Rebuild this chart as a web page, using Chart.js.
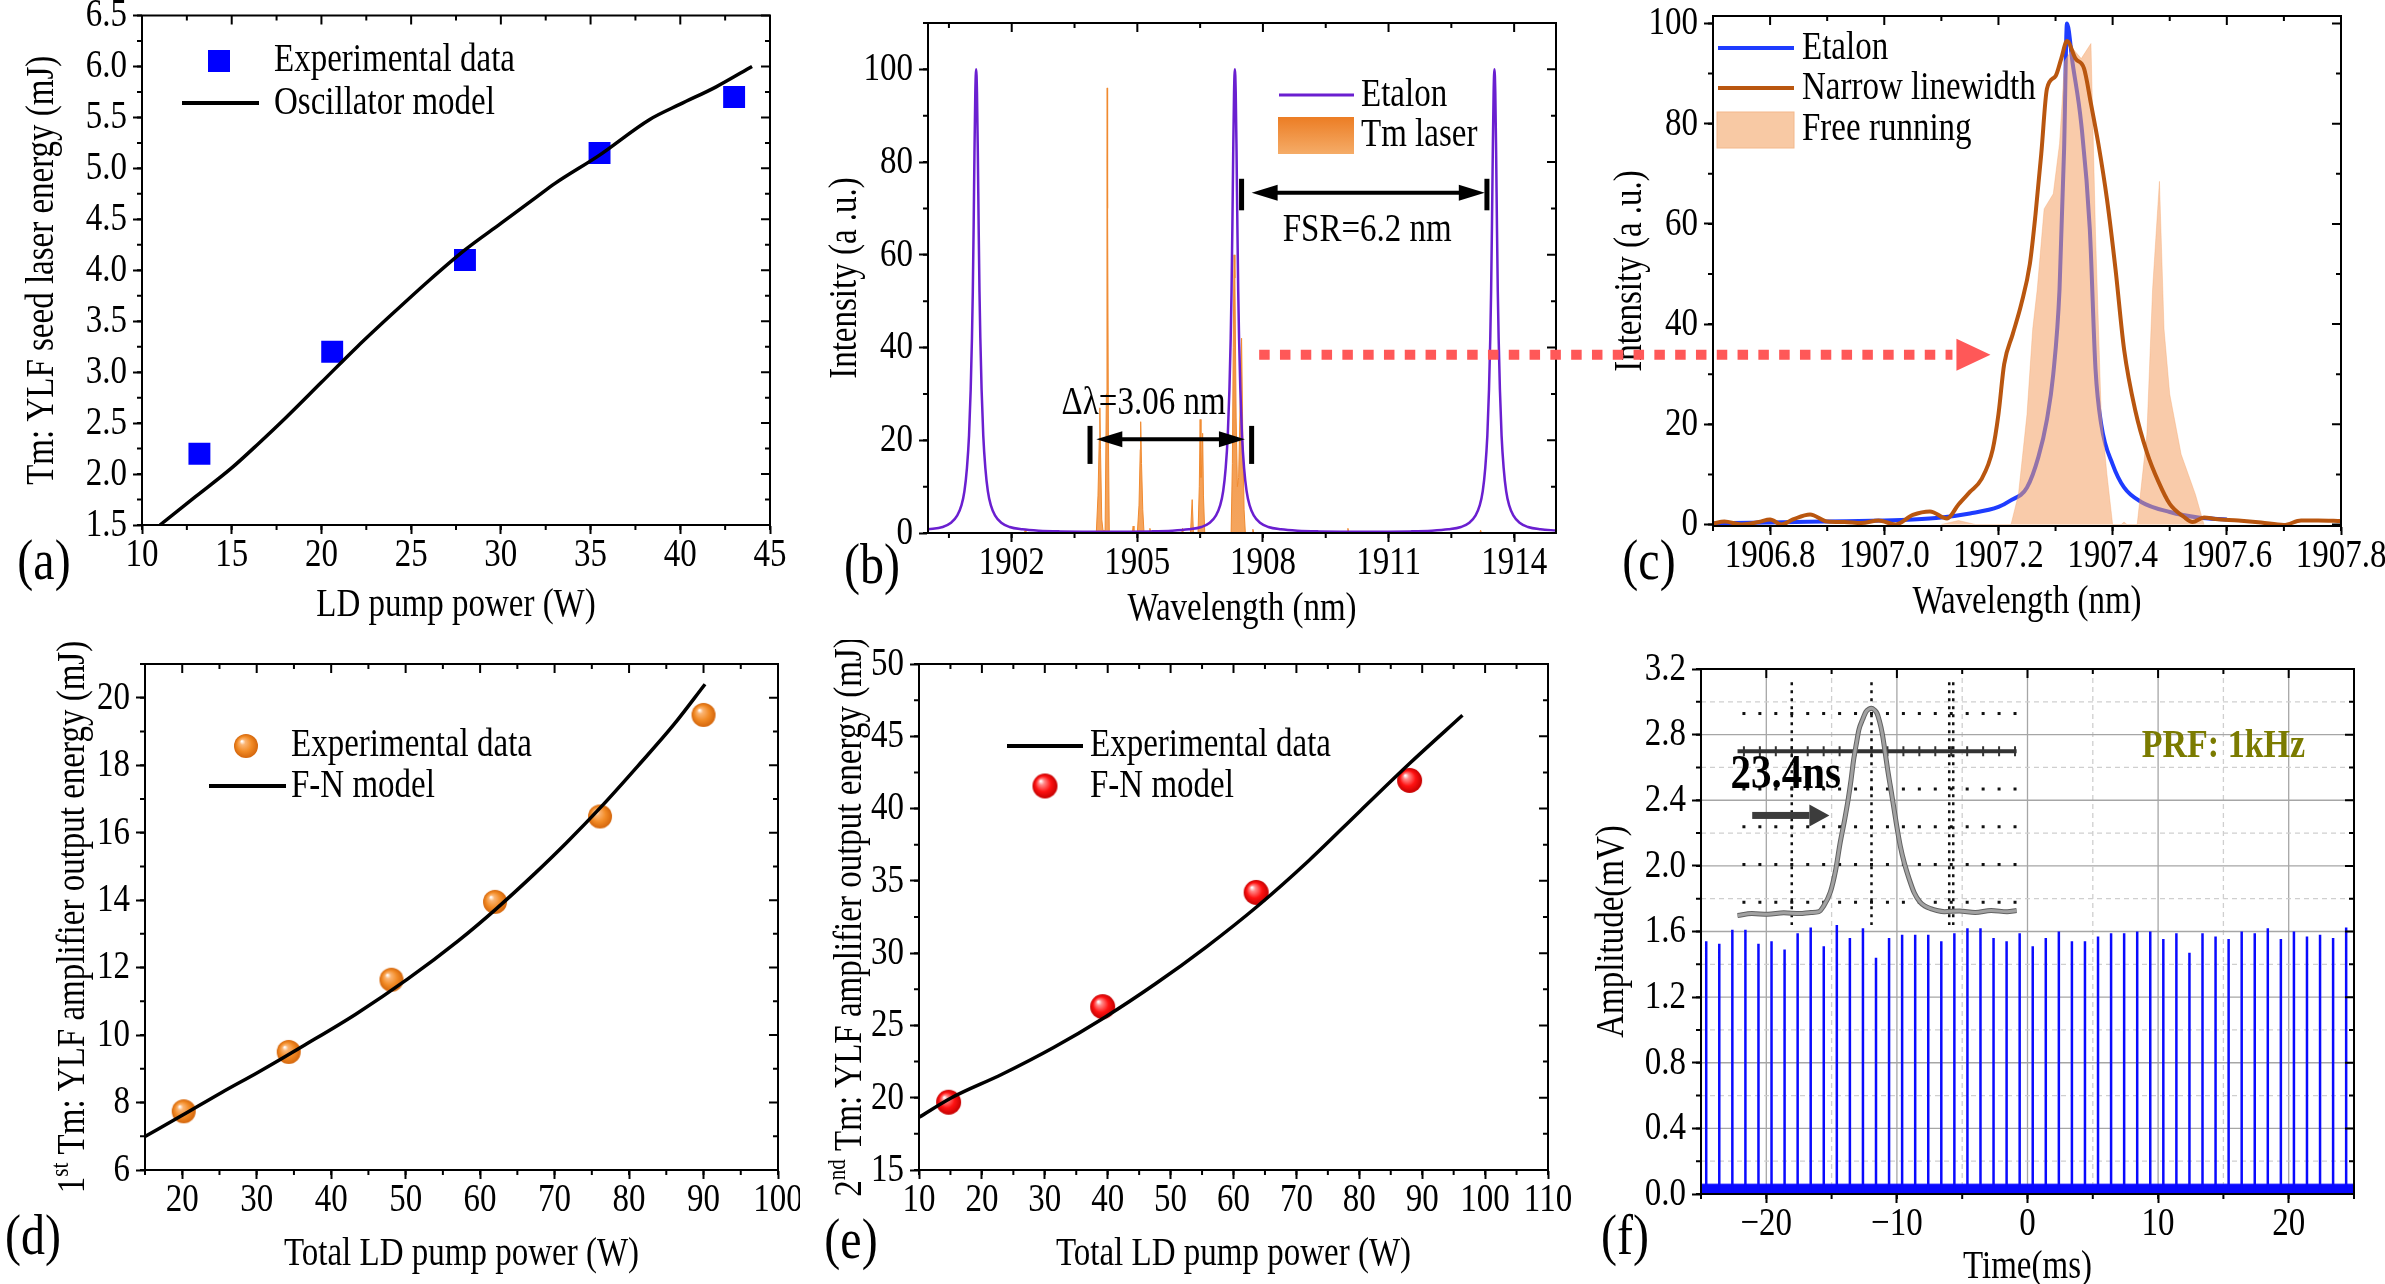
<!DOCTYPE html>
<html>
<head>
<meta charset="utf-8">
<title>Tm:YLF laser characterisation</title>
<script src="https://cdn.jsdelivr.net/npm/chart.js@4.4.1/dist/chart.umd.min.js"></script>
<style>
  html, body { margin: 0; padding: 0; background: #ffffff; }
  #page { position: relative; width: 2385px; height: 1284px; overflow: hidden; background: #ffffff; }
  #page canvas { position: absolute; }
</style>
</head>
<body>
<div id="page"></div>
<script>
/* ====================== DATA ====================== */
// (a) seed oscillator
const aPowerTicks  = [10, 15, 20, 25, 30, 35, 40, 45];
const aEnergyTicks = [1.5, 2.0, 2.5, 3.0, 3.5, 4.0, 4.5, 5.0, 5.5, 6.0, 6.5];
const aExpPower    = [13.2, 20.6, 28.0, 35.5, 43.0];
const aExpEnergy   = [2.2, 3.2, 4.1, 5.15, 5.7];
const aModelPower  = [11, 13, 15, 16.5, 18, 20, 22, 24, 26, 28, 30, 32, 33, 35.5, 38.3, 40, 42, 44];
const aModelEnergy = [1.5, 1.78, 2.06, 2.3, 2.55, 2.9, 3.25, 3.58, 3.9, 4.2, 4.46, 4.72, 4.85, 5.13, 5.48, 5.63, 5.8, 6.0];

// (b) etalon transmission and Tm laser spectrum
const bWlTicks  = [1902, 1905, 1908, 1911, 1914];
const bIntTicks = [0, 20, 40, 60, 80, 100];
const bEtalonWl = [1900.0, 1900.35, 1900.55, 1900.7, 1900.8, 1900.87, 1900.93, 1900.98, 1901.02, 1901.05, 1901.07, 1901.09, 1901.11, 1901.13, 1901.15, 1901.17, 1901.19, 1901.21, 1901.23, 1901.25, 1901.28, 1901.32, 1901.37, 1901.43, 1901.5, 1901.6, 1901.75, 1901.95, 1902.25, 1902.65, 1903.15,
  1904.25,
  1905.33, 1905.83, 1906.23, 1906.53, 1906.73, 1906.88, 1906.98, 1907.05, 1907.11, 1907.16, 1907.2, 1907.23, 1907.25, 1907.27, 1907.29, 1907.31, 1907.33, 1907.35, 1907.37, 1907.39, 1907.41, 1907.43, 1907.46, 1907.5, 1907.55, 1907.61, 1907.68, 1907.78, 1907.93, 1908.13, 1908.43, 1908.83, 1909.33,
  1910.43,
  1911.53, 1912.03, 1912.43, 1912.73, 1912.93, 1913.08, 1913.18, 1913.25, 1913.31, 1913.36, 1913.4, 1913.43, 1913.45, 1913.47, 1913.49, 1913.51, 1913.53, 1913.55, 1913.57, 1913.59, 1913.61, 1913.63, 1913.66, 1913.7, 1913.75, 1913.81, 1913.88, 1913.98, 1914.13, 1914.33, 1914.63, 1915.0];
const bEtalonInt = [0.8, 1.3, 2.2, 3.8, 6, 9, 14, 21, 31, 42, 52, 66, 82, 95, 100, 95, 82, 66, 52, 42, 31, 21, 14, 9, 6, 3.8, 2.2, 1.3, 0.8, 0.5, 0.35,
  0.25,
  0.35, 0.5, 0.8, 1.3, 2.2, 3.8, 6, 9, 14, 21, 31, 42, 52, 66, 82, 95, 100, 95, 82, 66, 52, 42, 31, 21, 14, 9, 6, 3.8, 2.2, 1.3, 0.8, 0.5, 0.35,
  0.25,
  0.35, 0.5, 0.8, 1.3, 2.2, 3.8, 6, 9, 14, 21, 31, 42, 52, 66, 82, 95, 100, 95, 82, 66, 52, 42, 31, 21, 14, 9, 6, 3.8, 2.2, 1.3, 0.8, 0.55];
const bLaserWl = [1900.0, 1902.30, 1902.32, 1902.34, 1904.02, 1904.06, 1904.09, 1904.105, 1904.12, 1904.15, 1904.18, 1904.23, 1904.26, 1904.275, 1904.28, 1904.29, 1904.31, 1904.33,
  1904.88, 1904.90, 1904.92, 1905.00, 1905.04, 1905.07, 1905.08, 1905.10, 1905.13, 1905.16, 1905.28, 1905.30, 1905.32,
  1906.06, 1906.08, 1906.10, 1906.27, 1906.31, 1906.34, 1906.45, 1906.48, 1906.50, 1906.52, 1906.54, 1906.56, 1906.58, 1906.61,
  1907.24, 1907.27, 1907.29, 1907.31, 1907.33, 1907.36, 1907.39, 1907.42, 1907.46, 1907.49, 1907.52, 1907.55, 1907.58,
  1907.74, 1907.76, 1907.78, 1910.01, 1910.03, 1910.05, 1913.18, 1913.20, 1913.22, 1915.0];
const bLaserInt = [0, 0, 0.6, 0, 0, 8, 20, 27, 18, 3, 0.5, 0.5, 30, 80, 96, 70, 20, 0,
  0, 1.5, 0, 0, 6, 18, 24, 15, 5, 0, 0, 1, 0,
  0, 1, 0, 0, 7.2, 0, 0, 10, 24.5, 12, 15, 21.5, 8, 0,
  0, 15, 40, 60, 55, 25, 10, 12, 30, 42, 20, 5, 0,
  0, 0.8, 0, 0, 1, 0, 0, 0.6, 0, 0];
const bFsrBars    = [1907.49, 1913.35];   // wavelength of the two FSR end bars
const bFsrBarSpan = [69.6, 76.4];         // intensity span of the bars
const bFsrArrow   = [1907.73, 1913.30, 73.4];
const bFsrLabel   = ['FSR=6.2 nm', 1910.49, 65.3];
const bDlBars     = [1903.87, 1907.73];
const bDlBarSpan  = [14.9, 23.1];
const bDlArrow    = [1904.02, 1907.57, 20.2];
const bDlLabel    = ['\u0394\u03bb=3.06 nm', 1905.15, 28.0];
const linkFrom    = [1907.91, 38.46];     // (b) wavelength / intensity where the red arrow starts
const linkToWl    = 1907.186;             // (c) wavelength where the red arrow ends

// (c) zoom on the selected mode
const cWlTicks  = [1906.8, 1907.0, 1907.2, 1907.4, 1907.6, 1907.8];
const cIntTicks = [0, 20, 40, 60, 80, 100];
const cEtalonWl  = [1906.70, 1906.80, 1906.90, 1907.00, 1907.05, 1907.10, 1907.15, 1907.20, 1907.22, 1907.25, 1907.27, 1907.285, 1907.296, 1907.307, 1907.315, 1907.32, 1907.33, 1907.345, 1907.36, 1907.37, 1907.38, 1907.40, 1907.42, 1907.45, 1907.50, 1907.55, 1907.60];
const cEtalonInt = [0.25, 0.4, 0.6, 0.8, 1.0, 1.4, 2.2, 3.5, 4.7, 7.4, 13.5, 21, 30, 47, 75, 100, 92, 80, 59, 31, 20, 12, 7.4, 4.5, 2.5, 1.4, 1.0];
const cNarrowWl  = [1906.70, 1906.72, 1906.75, 1906.78, 1906.80, 1906.82, 1906.84, 1906.87, 1906.90, 1906.93, 1906.96, 1906.99, 1907.02, 1907.05, 1907.08, 1907.11, 1907.13, 1907.15, 1907.17, 1907.19, 1907.20, 1907.21, 1907.225, 1907.24, 1907.255, 1907.265, 1907.275, 1907.285, 1907.30, 1907.31, 1907.32, 1907.335, 1907.35, 1907.362, 1907.375, 1907.39, 1907.405, 1907.42, 1907.44, 1907.46, 1907.48, 1907.50, 1907.525, 1907.54, 1907.56, 1907.58, 1907.62, 1907.66, 1907.70, 1907.73, 1907.76, 1907.80];
const cNarrowInt = [0.2, 0.6, 0.0, 0.5, 1.0, 0.0, 1.0, 2.0, 0.6, 0.5, 0.3, 0.8, 0.0, 1.9, 2.6, 1.2, 4.0, 6.5, 9.0, 15, 22, 32, 38, 44, 52, 62, 74, 87, 89.5, 93, 96.5, 93, 91, 84, 76, 65, 51, 35, 22.6, 14.4, 8.6, 4.1, 1.5, 0.5, 1.4, 1.1, 0.8, 0.4, -0.1, 0.8, 0.8, 0.7];
const cFreeWl  = [1907.10, 1907.13, 1907.16, 1907.222, 1907.235, 1907.25, 1907.26, 1907.268, 1907.28, 1907.296, 1907.307, 1907.316, 1907.33, 1907.345, 1907.362, 1907.37, 1907.38, 1907.39, 1907.40, 1907.415, 1907.42, 1907.425, 1907.443, 1907.46, 1907.47, 1907.482, 1907.49, 1907.50, 1907.52, 1907.545, 1907.56];
const cFreeInt = [0, 0.8, 0, 0, 6, 22, 39, 47, 63, 66, 76, 92.5, 95, 93, 96, 58, 22, 10, 0, 0, 0.5, 0, 0, 18, 47, 68.5, 39, 26, 14, 6, 0];

// (d) first amplifier
const dPowerTicks  = [20, 30, 40, 50, 60, 70, 80, 90, 100];
const dEnergyTicks = [6, 8, 10, 12, 14, 16, 18, 20];
const dExpPower    = [20.2, 34.3, 48.1, 62.0, 76.1, 90.0];
const dExpEnergy   = [7.74, 9.5, 11.64, 13.95, 16.48, 19.49];
const dModelPower  = [15, 20, 25.3, 30.2, 36.4, 43.3, 50.2, 57.1, 62.2, 67.4, 71.6, 76.4, 81.2, 86, 90.2];
const dModelEnergy = [6.99, 7.62, 8.3, 8.9, 9.7, 10.62, 11.65, 12.8, 13.75, 14.8, 15.7, 16.8, 17.98, 19.2, 20.4];

// (e) second amplifier
const ePowerTicks  = [10, 20, 30, 40, 50, 60, 70, 80, 90, 100, 110];
const eEnergyTicks = [15, 20, 25, 30, 35, 40, 45, 50];
const eLinePower   = [10, 15.1, 23.2, 31.4, 39.5, 47.6, 55.7, 63.9, 72, 80.1, 88.2, 96.4];
const eLineEnergy  = [18.64, 19.98, 21.62, 23.47, 25.55, 27.88, 30.44, 33.28, 36.41, 39.82, 43.2, 46.45];
const eDotPower    = [14.7, 39.2, 63.6, 88.0];
const eDotEnergy   = [19.69, 26.3, 34.2, 41.95];

// (f) pulse train at 1 kHz and single pulse inset
const fTimeTicks = [-20, -10, 0, 10, 20];
const fAmpTicks  = [0, 0.4, 0.8, 1.2, 1.6, 2.0, 2.4, 2.8, 3.2];
const fPulseTimes = [-24.6, -23.6, -22.6, -21.6, -20.6, -19.6, -18.6, -17.6, -16.6, -15.6, -14.6, -13.6, -12.6, -11.6, -10.6, -9.6, -8.6, -7.6, -6.6, -5.6, -4.6, -3.6, -2.6, -1.6, -0.6,
  0.4, 1.4, 2.4, 3.4, 4.4, 5.4, 6.4, 7.4, 8.4, 9.4, 10.4, 11.4, 12.4, 13.4, 14.4, 15.4, 16.4, 17.4, 18.4, 19.4, 20.4, 21.4, 22.4, 23.4, 24.4];
const fPulseAmps = [1.54, 1.525, 1.61, 1.61, 1.525, 1.54, 1.49, 1.59, 1.624, 1.51, 1.64, 1.56, 1.62, 1.44, 1.56, 1.58, 1.58, 1.58, 1.54, 1.59, 1.62, 1.62, 1.56, 1.54, 1.59,
  1.51, 1.56, 1.60, 1.54, 1.54, 1.57, 1.59, 1.59, 1.60, 1.60, 1.555, 1.59, 1.47, 1.59, 1.57, 1.555, 1.60, 1.59, 1.62, 1.555, 1.60, 1.57, 1.58, 1.56, 1.625];
const fNoiseLevel = 0.06;
const fPrfLabel = ['PRF: 1kHz', 15.0, 2.73];
// inset: oscilloscope trace, time in ns, amplitude in screen divisions
const insetNs  = [-84, -75, -65, -55, -45, -38, -33, -30.3, -25.8, -22.5, -19.6, -17, -14.6, -12.8, -11.2, -9.5, -7.9, -5.5, -3.4, -1.5, 0, 1.7, 3.4, 5, 6.7, 8.4, 10.1, 11.8, 13.5, 15.7, 18.0, 20.7, 23.6, 26.8, 30.3, 33.5, 37.1, 41, 45.8, 55, 65, 75, 85, 91];
const insetDiv = [-4.35, -4.3, -4.32, -4.28, -4.3, -4.27, -4.25, -4.12, -3.73, -3.15, -2.41, -1.85, -1.27, -0.75, -0.22, 0.2, 0.57, 0.85, 1.05, 1.12, 1.14, 1.1, 1.01, 0.8, 0.48, 0.02, -0.48, -0.92, -1.36, -1.95, -2.5, -2.98, -3.38, -3.75, -3.99, -4.1, -4.17, -4.22, -4.25, -4.23, -4.27, -4.22, -4.25, -4.22];
const insetCursorsNs = [-50, 0, 50];
const insetLabel = ['23.4ns', -53.8, -0.62];
const insetArrow = [-74.8, -26.4, -1.7];

/* ====================== HELPERS ====================== */
const SERIF = "'Liberation Serif', 'Times New Roman', Times, serif";
// the figure's lettering is taller than plain Times: stretch every glyph run about its own centre
const TEXT_STRETCH = 1.2;
(function () {
  const base = CanvasRenderingContext2D.prototype.fillText;
  CanvasRenderingContext2D.prototype.fillText = function (text, x, y, maxWidth) {
    const m = this.measureText(text);
    const c = (m.actualBoundingBoxDescent - m.actualBoundingBoxAscent) / 2;
    this.save();
    this.translate(x, y + c);
    this.scale(1, TEXT_STRETCH);
    if (maxWidth === undefined || maxWidth === null) base.call(this, text, 0, -c);
    else base.call(this, text, 0, -c, maxWidth);
    this.restore();
  };
})();

Chart.defaults.font.family = SERIF;
Chart.defaults.color = '#000';
const page = document.getElementById('page');

function addCanvas(b) {
  const c = document.createElement('canvas');
  c.width = b.w; c.height = b.h;
  c.style.left = b.x + 'px'; c.style.top = b.y + 'px';
  c.style.width = b.w + 'px'; c.style.height = b.h + 'px';
  page.appendChild(c);
  return c;
}
const pts = (xs, ys) => xs.map((x, i) => ({ x: x, y: ys[i] }));
const minus = (v) => (v < 0 ? '\u2212' + Math.abs(v) : String(v));

function sphere(r, light, mid, dark) {
  const s = Math.ceil(2 * r + 2), c = document.createElement('canvas');
  c.width = c.height = s;
  const g = c.getContext('2d'), m = s / 2;
  const gr = g.createRadialGradient(m - r * 0.35, m - r * 0.4, r * 0.04, m, m, r);
  gr.addColorStop(0, '#ffffff'); gr.addColorStop(0.2, light); gr.addColorStop(0.6, mid); gr.addColorStop(1, dark);
  g.fillStyle = gr; g.beginPath(); g.arc(m, m, r, 0, Math.PI * 2); g.fill();
  return c;
}
const orangeBall = sphere(12, '#fbb574', '#f28b26', '#d4660c');
const redBall = sphere(12.5, '#ff8a8a', '#ff1212', '#c40000');

function mkAxis(dir, o) {
  const isX = dir === 'x';
  return {
    type: 'linear', position: isX ? 'bottom' : 'left', min: o.min, max: o.max,
    afterBuildTicks: (sc) => { sc.ticks = o.ticks.map((v) => ({ value: v })); },
    afterFit: (sc) => {
      if (isX) { sc.height = o.size; sc.paddingLeft = 0; sc.paddingRight = 0; }
      else { sc.width = o.size; sc.paddingTop = 0; sc.paddingBottom = 0; }
    },
    grid: { display: true, drawOnChartArea: false, drawTicks: true, tickLength: 9, tickWidth: 2, tickColor: '#000', color: '#000' },
    border: { display: true, color: '#000', width: 2 },
    ticks: { font: { size: 33, family: SERIF }, color: '#000', padding: isX ? 1 : 6, autoSkip: false, maxRotation: 0, minRotation: 0,
      callback: (v) => (o.fmt ? o.fmt(v) : String(v)) },
    title: o.title ? { display: true, text: o.title, color: '#000', font: { size: 33, family: SERIF, lineHeight: o.lh || 1.2 },
      padding: isX ? { top: 0, bottom: o.tpad } : { top: o.tpad, bottom: 0 } } : { display: false }
  };
}

function minorVals(min, max, step, off) {
  const out = [];
  let k = Math.ceil((min - off) / step - 1e-9);
  for (let v = k * step + off; v <= max + 1e-9; v = (++k) * step + off) out.push(v);
  return out;
}

function frameTicks(chart, spec) {
  const { ctx, chartArea: a, scales: { x, y } } = chart;
  ctx.save();
  ctx.strokeStyle = '#000'; ctx.lineWidth = 2;
  ctx.strokeRect(a.left, a.top, a.right - a.left, a.bottom - a.top);
  ctx.beginPath();
  const inX = (p) => p >= a.left - 0.5 && p <= a.right + 0.5;
  const inY = (p) => p >= a.top - 0.5 && p <= a.bottom + 0.5;
  for (const v of minorVals(x.min, x.max, spec.xMinor[0], spec.xMinor[1] || 0)) {
    const p = x.getPixelForValue(v); if (!inX(p)) continue;
    ctx.moveTo(p, a.bottom); ctx.lineTo(p, a.bottom + 5);
    ctx.moveTo(p, a.top); ctx.lineTo(p, a.top + 5);
  }
  for (const t of x.ticks) { const p = x.getPixelForValue(t.value); ctx.moveTo(p, a.top); ctx.lineTo(p, a.top + 9); }
  for (const v of minorVals(y.min, y.max, spec.yMinor[0], spec.yMinor[1] || 0)) {
    const p = y.getPixelForValue(v); if (!inY(p)) continue;
    ctx.moveTo(a.left, p); ctx.lineTo(a.left - 5, p);
    ctx.moveTo(a.right, p); ctx.lineTo(a.right - 5, p);
  }
  for (const t of y.ticks) { const p = y.getPixelForValue(t.value); ctx.moveTo(a.right, p); ctx.lineTo(a.right - 9, p); }
  ctx.stroke();
  ctx.restore();
}

function drawLegend(ctx, items) {
  for (const it of items) {
    ctx.save();
    if (it.kind === 'square') { ctx.fillStyle = it.color; ctx.fillRect(it.cx - it.size / 2, it.cy - it.size / 2, it.size, it.size); }
    if (it.kind === 'line') { ctx.strokeStyle = it.color; ctx.lineWidth = it.width; ctx.beginPath(); ctx.moveTo(it.x1, it.y); ctx.lineTo(it.x2, it.y); ctx.stroke(); }
    if (it.kind === 'gbox') {
      const g = ctx.createLinearGradient(0, it.y, 0, it.y + it.h);
      g.addColorStop(0, '#ec7d24'); g.addColorStop(1, '#f5ac68');
      ctx.fillStyle = g; ctx.fillRect(it.x, it.y, it.w, it.h);
    }
    if (it.kind === 'box') { ctx.fillStyle = it.color; ctx.fillRect(it.x, it.y, it.w, it.h); ctx.strokeStyle = it.stroke; ctx.lineWidth = 1; ctx.strokeRect(it.x, it.y, it.w, it.h); }
    if (it.kind === 'ball') { ctx.drawImage(it.img, it.cx - it.img.width / 2, it.cy - it.img.height / 2); }
    ctx.fillStyle = '#000'; ctx.font = '33px ' + SERIF; ctx.textAlign = 'left'; ctx.textBaseline = 'middle';
    ctx.fillText(it.text, it.tx, it.ty);
    ctx.restore();
  }
}

function supTitle(ctx, cx, cy, base, sup, rest) {
  ctx.save(); ctx.translate(cx, cy); ctx.rotate(-Math.PI / 2);
  ctx.fillStyle = '#000'; ctx.textBaseline = 'alphabetic'; ctx.textAlign = 'left';
  const f1 = '33px ' + SERIF, f2 = '21px ' + SERIF;
  ctx.font = f1; const w1 = ctx.measureText(base).width, w3 = ctx.measureText(rest).width;
  ctx.font = f2; const w2 = ctx.measureText(sup).width;
  let x = -(w1 + w2 + w3) / 2; const yb = 11;
  ctx.font = f1; ctx.fillText(base, x, yb); x += w1;
  ctx.font = f2; ctx.fillText(sup, x, yb - 15); x += w2;
  ctx.font = f1; ctx.fillText(rest, x, yb);
  ctx.restore();
}

function decor(spec) {
  return {
    id: 'decor',
    beforeDatasetsDraw(chart) { if (spec.under) spec.under(chart, chart.ctx); },
    afterDatasetsDraw(chart) {
      const ctx = chart.ctx;
      if (spec.xMinor) frameTicks(chart, spec);
      if (spec.over) { ctx.save(); spec.over(chart, ctx); ctx.restore(); }
      if (spec.legend) drawLegend(ctx, spec.legend);
      if (spec.ytitle) supTitle(ctx, spec.ytitle[0], spec.ytitle[1], spec.ytitle[2], spec.ytitle[3], spec.ytitle[4]);
      if (spec.label) {
        ctx.save(); ctx.font = '48px ' + SERIF; ctx.fillStyle = '#000'; ctx.textAlign = 'center'; ctx.textBaseline = 'middle';
        ctx.fillText(spec.label[0], spec.label[1], spec.label[2]); ctx.restore();
      }
    }
  };
}

function makeChart(box, area, datasets, xo, yo, spec) {
  const cv = addCanvas(box);
  const L = area.L - box.x, T = area.T - box.y, R = area.R - box.x, B = area.B - box.y;
  xo.size = box.h - B; yo.size = L;
  return new Chart(cv.getContext('2d'), {
    type: 'line',
    data: { datasets: datasets },
    options: {
      responsive: false, animation: false, devicePixelRatio: 1,
      layout: { padding: { left: 0, top: T, right: box.w - R, bottom: 0 } },
      scales: { x: mkAxis('x', xo), y: mkAxis('y', yo) },
      plugins: { legend: { display: false }, tooltip: { enabled: false } },
      elements: { point: { radius: 0 }, line: { tension: 0 } }
    },
    plugins: [decor(spec)]
  });
}

// arrow helpers in data space
function hArrowHead(ctx, xTip, y, dir, len, half) {
  ctx.beginPath(); ctx.moveTo(xTip, y); ctx.lineTo(xTip - dir * len, y - half); ctx.lineTo(xTip - dir * len, y + half); ctx.closePath(); ctx.fill();
}
function dimension(chart, ctx, bars, span, arrow, label) {
  const X = (v) => chart.scales.x.getPixelForValue(v), Y = (v) => chart.scales.y.getPixelForValue(v);
  ctx.fillStyle = '#000'; ctx.strokeStyle = '#000';
  for (const b of bars) ctx.fillRect(X(b) - 2.5, Y(span[1]), 5, Y(span[0]) - Y(span[1]));
  const y = Y(arrow[2]), x1 = X(arrow[0]), x2 = X(arrow[1]);
  ctx.lineWidth = 4; ctx.beginPath(); ctx.moveTo(x1 + 20, y); ctx.lineTo(x2 - 20, y); ctx.stroke();
  hArrowHead(ctx, x1, y, -1, 26, 8); hArrowHead(ctx, x2, y, 1, 26, 8);
  ctx.font = '33px ' + SERIF; ctx.textAlign = 'center'; ctx.textBaseline = 'middle';
  ctx.fillText(label[0], X(label[1]), Y(label[2]));
}

/* ====================== PANELS ====================== */
const boxA = { x: 0, y: 0, w: 800, h: 640 },     areaA = { L: 142, T: 14, R: 770, B: 525 };
const boxB = { x: 800, y: 0, w: 790, h: 640 },   areaB = { L: 928, T: 23, R: 1556, B: 533 };
const boxC = { x: 1590, y: 0, w: 795, h: 640 },  areaC = { L: 1713, T: 16, R: 2341, B: 526 };
const boxD = { x: 0, y: 640, w: 800, h: 644 },   areaD = { L: 145, T: 664, R: 778, B: 1170 };
const boxE = { x: 800, y: 640, w: 790, h: 644 }, areaE = { L: 919, T: 664, R: 1548, B: 1170 };
const boxF = { x: 1590, y: 640, w: 795, h: 644 },areaF = { L: 1701, T: 669, R: 2354, B: 1194 };

// (a)
const chartA = makeChart(boxA, areaA, [
  { data: pts(aModelPower, aModelEnergy), borderColor: '#000', borderWidth: 3.5, pointRadius: 0, cubicInterpolationMode: 'monotone', fill: false },
  { data: pts(aExpPower, aExpEnergy), showLine: false, pointStyle: 'rect', pointRadius: 15.5, pointBackgroundColor: '#0000ff', pointBorderWidth: 0, pointBorderColor: '#0000ff' }
], { min: 10, max: 45, ticks: aPowerTicks, title: 'LD pump power (W)', tpad: 14 },
   { min: 1.5, max: 6.5, ticks: aEnergyTicks, fmt: (v) => v.toFixed(1), title: 'Tm: YLF seed laser energy (mJ)', tpad: 23 },
   { xMinor: [2.5], yMinor: [0.25], label: ['(a)', 44, 564],
     legend: [
       { kind: 'square', cx: 219, cy: 61, size: 22, color: '#0000ff', text: 'Experimental data', tx: 274, ty: 61 },
       { kind: 'line', x1: 182, x2: 259, y: 103, color: '#000', width: 4, text: 'Oscillator model', tx: 274, ty: 103 }
     ] });

// (b)
const chartB = makeChart(boxB, areaB, [
  { data: pts(bEtalonWl, bEtalonInt), borderColor: '#6a1fd0', borderWidth: 2.5, pointRadius: 0, cubicInterpolationMode: 'monotone', fill: false },
  { data: pts(bLaserWl, bLaserInt), borderColor: '#f08a30', borderWidth: 1, pointRadius: 0, fill: 'origin',
    backgroundColor: (c) => {
      const a = c.chart.chartArea; if (!a) return '#f19040';
      const g = c.chart.ctx.createLinearGradient(0, a.top, 0, a.bottom);
      g.addColorStop(0, '#ea7618'); g.addColorStop(1, '#f5a55e'); return g;
    } }
], { min: 1900, max: 1915, ticks: bWlTicks, title: 'Wavelength (nm)', tpad: 10 },
   { min: 0, max: 110, ticks: bIntTicks, title: 'Intensity (a .u.)', tpad: 26 },
   { xMinor: [1.5], yMinor: [10], label: ['(b)', 72, 568],
     over: (chart, ctx) => {
       dimension(chart, ctx, bFsrBars, bFsrBarSpan, bFsrArrow, bFsrLabel);
       dimension(chart, ctx, bDlBars, bDlBarSpan, bDlArrow, bDlLabel);
     },
     legend: [
       { kind: 'line', x1: 479, x2: 554, y: 95, color: '#6a1fd0', width: 3, text: 'Etalon', tx: 561, ty: 95 },
       { kind: 'gbox', x: 478, y: 117, w: 76, h: 37, text: 'Tm laser', tx: 561, ty: 135 }
     ] });

// (c)
const chartC = makeChart(boxC, areaC, [
  { data: pts(cNarrowWl, cNarrowInt), borderColor: '#b9560f', borderWidth: 4, pointRadius: 0, cubicInterpolationMode: 'monotone', fill: false },
  { data: pts(cFreeWl, cFreeInt), borderColor: 'rgba(244,160,100,0.35)', borderWidth: 1, pointRadius: 0, fill: 'origin', backgroundColor: 'rgba(244,160,100,0.55)' },
  { data: pts(cEtalonWl, cEtalonInt), borderColor: '#1e3cff', borderWidth: 4, pointRadius: 0, cubicInterpolationMode: 'monotone', fill: false }
], { min: 1906.7, max: 1907.8, ticks: cWlTicks, fmt: (v) => v.toFixed(1), title: 'Wavelength (nm)', tpad: 17 },
   { min: -0.3, max: 101.5, ticks: cIntTicks, title: 'Intensity (a .u.)', tpad: 21 },
   { xMinor: [0.1], yMinor: [10], label: ['(c)', 59, 564],
     legend: [
       { kind: 'line', x1: 128, x2: 204, y: 48, color: '#1e3cff', width: 4, text: 'Etalon', tx: 212, ty: 48 },
       { kind: 'line', x1: 128, x2: 204, y: 88, color: '#b9560f', width: 4, text: 'Narrow linewidth', tx: 212, ty: 88 },
       { kind: 'box', x: 127, y: 112, w: 77, h: 36, color: '#f8c9a4', stroke: '#f3b88c', text: 'Free running', tx: 212, ty: 130 }
     ] });

// (d)
const chartD = makeChart(boxD, areaD, [
  { data: pts(dModelPower, dModelEnergy), borderColor: '#000', borderWidth: 3.5, pointRadius: 0, cubicInterpolationMode: 'monotone', fill: false },
  { data: pts(dExpPower, dExpEnergy), showLine: false, pointStyle: orangeBall, pointRadius: 12 }
], { min: 15, max: 100, ticks: dPowerTicks, title: 'Total LD pump power (W)', tpad: 9 },
   { min: 6, max: 21, ticks: dEnergyTicks },
   { xMinor: [5], yMinor: [1], label: ['(d)', 33, 599],
     ytitle: [71, 277, '1', 'st', ' Tm: YLF amplifier output energy (mJ)'],
     legend: [
       { kind: 'ball', img: orangeBall, cx: 246, cy: 106, text: 'Experimental data', tx: 291, ty: 106 },
       { kind: 'line', x1: 209, x2: 286, y: 146, color: '#000', width: 4, text: 'F-N model', tx: 291, ty: 146 }
     ] });

// (e)
const chartE = makeChart(boxE, areaE, [
  { data: pts(eLinePower, eLineEnergy), borderColor: '#000', borderWidth: 3.5, pointRadius: 0, cubicInterpolationMode: 'monotone', fill: false },
  { data: pts(eDotPower, eDotEnergy), showLine: false, pointStyle: redBall, pointRadius: 12 }
], { min: 10, max: 110, ticks: ePowerTicks, title: 'Total LD pump power (W)', tpad: 9 },
   { min: 15, max: 50, ticks: eEnergyTicks },
   { xMinor: [5], yMinor: [2.5], label: ['(e)', 51, 603],
     ytitle: [48, 277, '2', 'nd', ' Tm: YLF amplifier output energy (mJ)'],
     legend: [
       { kind: 'line', x1: 207, x2: 283, y: 106, color: '#000', width: 4, text: 'Experimental data', tx: 290, ty: 106 },
       { kind: 'ball', img: redBall, cx: 245, cy: 146, text: 'F-N model', tx: 290, ty: 146 }
     ] });

// (f)
const fSpikes = [];
fPulseTimes.forEach((t, i) => { fSpikes.push({ x: t, y: 0 }, { x: t, y: fPulseAmps[i] }, { x: t, y: 0 }); });
const chartF = makeChart(boxF, areaF, [
  { data: fSpikes, borderColor: '#0a0aff', borderWidth: 2.5, pointRadius: 0, fill: false },
  { data: [{ x: -25, y: fNoiseLevel }, { x: 25, y: fNoiseLevel }], borderColor: '#0a0aff', borderWidth: 1, pointRadius: 0, fill: 'origin', backgroundColor: '#0a0aff' }
], { min: -25, max: 25, ticks: fTimeTicks, fmt: minus, title: 'Time(ms)', tpad: 0, lh: 1.0 },
   { min: 0, max: 3.2, ticks: fAmpTicks, fmt: (v) => v.toFixed(1), title: 'Amplitude(mV)', tpad: 3 },
   { xMinor: [5], yMinor: [0.2], label: ['(f)', 35, 599],
     under: (chart, ctx) => {
       const { chartArea: a, scales: { x, y } } = chart;
       ctx.save(); ctx.lineWidth = 1.3;
       for (const v of minorVals(x.min, x.max, 5, 0)) {
         const p = x.getPixelForValue(v); if (p <= a.left + 1 || p >= a.right - 1) continue;
         const major = Math.abs(v % 10) < 1e-6;
         ctx.strokeStyle = major ? '#a6a6a6' : '#cfcfcf'; ctx.setLineDash(major ? [] : [5, 4]);
         ctx.beginPath(); ctx.moveTo(p, a.top); ctx.lineTo(p, a.bottom); ctx.stroke();
       }
       for (const v of minorVals(y.min, y.max, 0.2, 0)) {
         const p = y.getPixelForValue(v); if (p <= a.top + 1 || p >= a.bottom - 1) continue;
         const major = Math.abs(Math.round(v / 0.4) * 0.4 - v) < 1e-6;
         ctx.strokeStyle = major ? '#a6a6a6' : '#cfcfcf'; ctx.setLineDash(major ? [] : [5, 4]);
         ctx.beginPath(); ctx.moveTo(a.left, p); ctx.lineTo(a.right, p); ctx.stroke();
       }
       ctx.restore();
     },
     over: (chart, ctx) => {
       const X = (v) => chart.scales.x.getPixelForValue(v), Y = (v) => chart.scales.y.getPixelForValue(v);
       ctx.font = 'bold 34px ' + SERIF; ctx.fillStyle = '#7b7b00'; ctx.textAlign = 'center'; ctx.textBaseline = 'middle';
       ctx.fillText(fPrfLabel[0], X(fPrfLabel[1]), Y(fPrfLabel[2]));
     } });

// inset: scope trace, placed inside (f) using its axes
const insetNsRange = [-95, 95], insetDivRange = [-5, 2.1];
const insetCentreMs = -11.94, msPerNs = 0.1222, insetZeroMv = 2.70, mvPerDiv = 0.2305;
(function () {
  const fx = chartF.scales.x, fy = chartF.scales.y;
  const L = boxF.x + fx.getPixelForValue(insetCentreMs + insetNsRange[0] * msPerNs);
  const R = boxF.x + fx.getPixelForValue(insetCentreMs + insetNsRange[1] * msPerNs);
  const T = boxF.y + fy.getPixelForValue(insetZeroMv + insetDivRange[1] * mvPerDiv);
  const B = boxF.y + fy.getPixelForValue(insetZeroMv + insetDivRange[0] * mvPerDiv);
  const box = { x: Math.round(L), y: Math.round(T), w: Math.round(R - L), h: Math.round(B - T) };
  const cv = addCanvas(box);
  new Chart(cv.getContext('2d'), {
    type: 'line',
    data: { datasets: [
      { data: pts(insetNs, insetDiv), borderColor: '#a2a2a2', borderWidth: 3, pointRadius: 0, cubicInterpolationMode: 'monotone', fill: false },
      { data: pts(insetNs, insetDiv), borderColor: '#626262', borderWidth: 5, pointRadius: 0, cubicInterpolationMode: 'monotone', fill: false }
    ] },
    options: {
      responsive: false, animation: false, devicePixelRatio: 1,
      layout: { padding: 0 },
      scales: { x: { type: 'linear', display: false, min: insetNsRange[0], max: insetNsRange[1] },
                y: { type: 'linear', display: false, min: insetDivRange[0], max: insetDivRange[1] } },
      plugins: { legend: { display: false }, tooltip: { enabled: false } }
    },
    plugins: [decor({
      under: (chart, ctx) => {
        const X = (v) => chart.scales.x.getPixelForValue(v), Y = (v) => chart.scales.y.getPixelForValue(v);
        ctx.save(); ctx.fillStyle = '#111';
        for (const r of [1, -1, -2, -3, -4]) for (let n = -80; n <= 90; n += 10) ctx.fillRect(X(n) - 1.5, Y(r) - 1.5, 3, 3);
        ctx.strokeStyle = '#333'; ctx.lineWidth = 4;
        ctx.beginPath(); ctx.moveTo(X(-84), Y(0)); ctx.lineTo(X(91), Y(0)); ctx.stroke();
        ctx.lineWidth = 2; ctx.beginPath();
        for (let n = -80; n <= 90; n += 10) { ctx.moveTo(X(n), Y(0) - 5); ctx.lineTo(X(n), Y(0) + 5); }
        ctx.stroke();
        ctx.strokeStyle = '#111'; ctx.lineWidth = 2.5; ctx.setLineDash([3, 5]);
        insetCursorsNs.forEach((c, i) => {
          const offs = i === 2 ? [-2, 2] : [0];
          for (const o of offs) { ctx.beginPath(); ctx.moveTo(X(c) + o, Y(1.83)); ctx.lineTo(X(c) + o, Y(-4.6)); ctx.stroke(); }
        });
        ctx.restore();
      },
      over: (chart, ctx) => {
        const X = (v) => chart.scales.x.getPixelForValue(v), Y = (v) => chart.scales.y.getPixelForValue(v);
        ctx.fillStyle = '#000'; ctx.font = 'bold 41px ' + SERIF; ctx.textAlign = 'center'; ctx.textBaseline = 'middle';
        ctx.fillText(insetLabel[0], X(insetLabel[1]), Y(insetLabel[2]));
        const y = Y(insetArrow[2]), x0 = X(insetArrow[0]), x1 = X(insetArrow[1]);
        ctx.fillStyle = '#3c3c3c';
        ctx.fillRect(x0, y - 3.5, (x1 - 20) - x0, 7);
        hArrowHead(ctx, x1, y, 1, 20, 11);
      }
    })]
  });
})();

// red dotted link arrow from (b) to (c)
(function () {
  const cv = addCanvas({ x: 0, y: 0, w: 2385, h: 1284 });
  cv.style.pointerEvents = 'none';
  const g = cv.getContext('2d');
  const x0 = boxB.x + chartB.scales.x.getPixelForValue(linkFrom[0]);
  const y0 = boxB.y + chartB.scales.y.getPixelForValue(linkFrom[1]);
  const tip = boxC.x + chartC.scales.x.getPixelForValue(linkToWl);
  const headLen = 34, headHalf = 16;
  g.strokeStyle = '#ff5858'; g.fillStyle = '#ff5858';
  g.lineWidth = 10; g.setLineDash([10.5, 10.3]);
  g.beginPath(); g.moveTo(x0, y0); g.lineTo(tip - headLen - 4, y0); g.stroke();
  g.setLineDash([]);
  g.beginPath(); g.moveTo(tip, y0); g.lineTo(tip - headLen, y0 - headHalf); g.lineTo(tip - headLen, y0 + headHalf); g.closePath(); g.fill();
})();
</script>
</body>
</html>
